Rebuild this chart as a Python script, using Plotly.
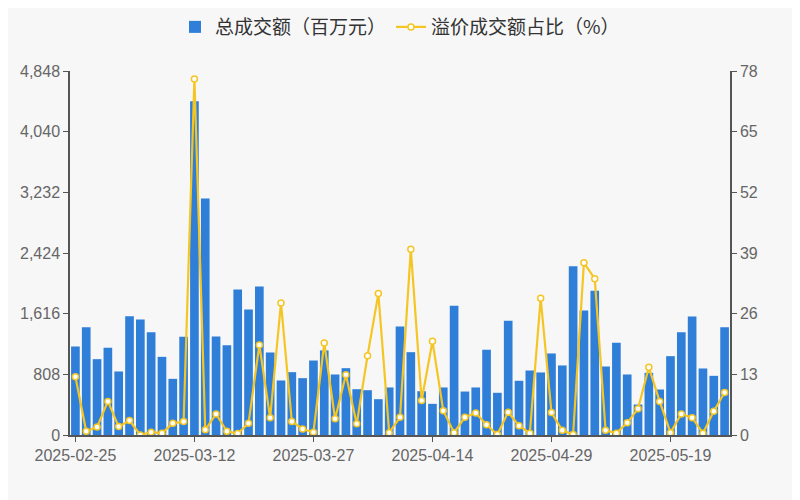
import plotly.graph_objects as go

dates = [
    "2025-02-25", "2025-02-26", "2025-02-27", "2025-02-28", "2025-03-03", "2025-03-04",
    "2025-03-05", "2025-03-06", "2025-03-07", "2025-03-10", "2025-03-11", "2025-03-12",
    "2025-03-13", "2025-03-14", "2025-03-17", "2025-03-18", "2025-03-19", "2025-03-20",
    "2025-03-21", "2025-03-24", "2025-03-25", "2025-03-26", "2025-03-27", "2025-03-28",
    "2025-03-31", "2025-04-01", "2025-04-02", "2025-04-03", "2025-04-07", "2025-04-08",
    "2025-04-09", "2025-04-10", "2025-04-11", "2025-04-14", "2025-04-15", "2025-04-16",
    "2025-04-17", "2025-04-18", "2025-04-21", "2025-04-22", "2025-04-23", "2025-04-24",
    "2025-04-25", "2025-04-28", "2025-04-29", "2025-04-30", "2025-05-06", "2025-05-07",
    "2025-05-08", "2025-05-09", "2025-05-12", "2025-05-13", "2025-05-14", "2025-05-15",
    "2025-05-16", "2025-05-19", "2025-05-20", "2025-05-21", "2025-05-22", "2025-05-23",
    "2025-05-26",
]

# total turnover, million yuan
turnover = [
    1180, 1436, 1010, 1161, 846, 1583, 1538, 1370, 1041, 748, 1308,
    4446, 3150, 1312, 1196, 1938, 1672, 1978, 1099, 726, 837,
    757, 992, 1126, 806, 890, 610, 597, 477, 633, 1445,
    1103, 583, 415, 633, 1721, 579, 633, 1135, 562, 1521,
    722, 859, 833, 1086, 926, 2249, 1658, 1921, 912, 1228,
    806, 406, 828, 606, 1050, 1369, 1578, 886, 788, 1436,
]

# premium turnover share, %
premium_pct = [
    12.5, 0.8, 1.7, 7.2, 1.8, 3.1, 0.0, 0.6, 0.4, 2.5, 2.9,
    76.3, 1.1, 4.5, 0.8, 0.3, 2.5, 19.3, 3.7, 28.3, 2.9,
    1.3, 0.6, 19.7, 3.5, 12.9, 2.4, 17.0, 30.3, 0.5, 3.8,
    39.8, 7.4, 20.1, 5.2, 0.5, 3.8, 4.7, 2.2, 0.1, 4.9,
    2.0, 0.4, 29.3, 4.8, 1.0, 0.1, 36.9, 33.5, 1.0, 0.4,
    2.6, 5.6, 14.5, 7.2, 0.5, 4.5, 3.7, 0.4, 5.1, 9.1,
]

left_ticks = [0, 808, 1616, 2424, 3232, 4040, 4848]
right_ticks = [0, 13, 26, 39, 52, 65, 78]
shown_dates = dates[::11]

font = "Liberation Sans, Arial, Noto Sans CJK SC, sans-serif"
tick_color = "#666666"
axis_color = "#555555"

fig = go.Figure()
fig.add_trace(go.Bar(
    x=dates, y=turnover, name="总成交额（百万元）",
    marker=dict(color="#2f7ed8", line=dict(width=0)),
))
fig.add_trace(go.Scatter(
    x=dates, y=premium_pct, name="溢价成交额占比（%）", yaxis="y2",
    mode="lines+markers",
    line=dict(color="#f5c623", width=2.2),
    marker=dict(symbol="circle", size=6, color="#ffffff",
                line=dict(color="#f5c623", width=1.5)),
))

# page body has an 8px margin, so the figure is sized to 792x492
fig.update_layout(
    width=792, height=492,
    margin=dict(l=62, r=70, t=63, b=65, autoexpand=False),
    paper_bgcolor="#f7f7f7", plot_bgcolor="#f7f7f7",
    font=dict(family=font, size=16, color=tick_color),
    bargap=0.2,
    showlegend=True,
    legend=dict(
        orientation="h", x=0.5, xanchor="center", y=1.173, yanchor="top",
        font=dict(size=19, color="#333333", family="Noto Sans CJK SC, sans-serif"),
        bgcolor="rgba(0,0,0,0)", itemwidth=30, tracegroupgap=0,
    ),
    xaxis=dict(
        type="category", tickmode="array", tickvals=shown_dates, ticktext=shown_dates,
        showline=True, linecolor=axis_color, linewidth=1.5,
        ticks="outside", ticklen=5, tickcolor=axis_color,
        showgrid=False, zeroline=False,
        tickfont=dict(size=16, color=tick_color),
        range=[-0.5, len(dates) - 0.5],
    ),
    yaxis=dict(
        range=[0, 4848], tickvals=left_ticks, tickformat=",",
        showline=True, linecolor=axis_color, linewidth=1.5,
        ticks="outside", ticklen=5, tickcolor=axis_color,
        showgrid=False, zeroline=False,
        tickfont=dict(size=16, color=tick_color),
    ),
    yaxis2=dict(
        range=[0, 78], tickvals=right_ticks, overlaying="y", side="right",
        showline=True, linecolor=axis_color, linewidth=1.5,
        ticks="outside", ticklen=5, tickcolor=axis_color,
        showgrid=False, zeroline=False,
        tickfont=dict(size=16, color=tick_color),
    ),
)

fig.write_html("out.html")
